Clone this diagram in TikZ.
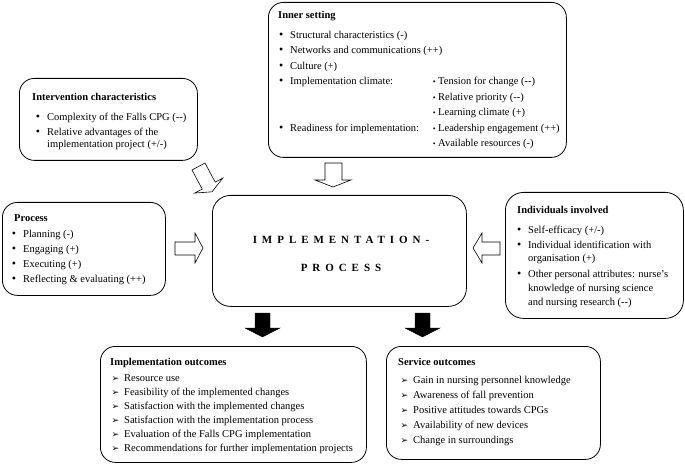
\documentclass[tikz,border=0pt]{standalone}
\usepackage{fontspec}
\setmainfont{Liberation Serif}
\newfontfamily\dejavu{DejaVu Sans}
\newcommand\bu{\llap{{\fontsize{12}{12}\selectfont\textbullet}\hspace{7pt}}}
\newcommand\sbu{\llap{{\fontsize{8}{8}\selectfont\textbullet}\hspace{2.5pt}}}
\newcommand\ab{\llap{{\dejavu\fontsize{9}{9}\selectfont ➢}\hspace{5pt}}}
\begin{document}
\begin{tikzpicture}[x=1pt,y=-1pt,
  box/.style={draw, line width=0.8pt, rounded corners=15pt, anchor=north west, inner sep=0pt},
  txt/.style={anchor=base west, inner sep=0pt, font=\fontsize{10.5}{12}\selectfont},
  ttl/.style={txt, font=\fontsize{10.5}{12}\selectfont\bfseries},
  openarrow/.style={draw, line width=0.6pt, fill=white, line join=miter},
  solidarrow/.style={fill=black, draw=black, line width=0.4pt},
  big/.style={inner sep=0pt, font=\fontsize{11}{13}\selectfont\bfseries\addfontfeature{LetterSpace=45}}
]
\useasboundingbox (0,0) rectangle (685,465);

% boxes
\node[box, minimum width=298pt, minimum height=155pt] (inner) at (268,2) {};
\node[box, minimum width=178pt, minimum height=82pt] (interv) at (19,78) {};
\node[box, minimum width=163pt, minimum height=93pt] (proc) at (2,202) {};
\node[box, minimum width=254pt, minimum height=111pt, rounded corners=18pt] (central) at (212,195) {};
\node[box, minimum width=178pt, minimum height=126pt, rounded corners=18pt] (indiv) at (505,192) {};
\node[box, minimum width=266pt, minimum height=116pt] (implout) at (100,346) {};
\node[box, minimum width=214pt, minimum height=113pt] (servout) at (386,346) {};

% inner setting
\node[ttl] (inT) at (278,19) {Inner setting};
\node[txt] (in1) at (290,38.5) {\bu Structural characteristics (-)};
\node[txt] (in2) at (290,54) {\bu Networks and communications (++)};
\node[txt] (in3) at (290,69.5) {\bu Culture (+)};
\node[txt] (in4) at (290,85) {\bu Implementation climate:};
\node[txt] (in5) at (290,131.5) {\bu Readiness for implementation:};
\node[txt] (ic1) at (438,85) {\sbu Tension for change ({-}{-})};
\node[txt] (ic2) at (438,100.5) {\sbu Relative priority ({-}{-})};
\node[txt] (ic3) at (438,116) {\sbu Learning climate (+)};
\node[txt] (ic4) at (438,131.5) {\sbu Leadership engagement (++)};
\node[txt] (ic5) at (438,147) {\sbu Available resources (-)};

% intervention characteristics
\node[ttl] (ivT) at (32,101) {Intervention characteristics};
\node[txt] (iv1) at (47,120.5) {\bu Complexity of the Falls CPG ({-}{-})};
\node[txt] (iv2) at (47,135.5) {\bu Relative advantages of the};
\node[txt] (iv3) at (47,148) {implementation project (+/-)};

% process
\node[ttl] (prT) at (14,221.5) {Process};
\node[txt] (pr1) at (23,237.5) {\bu Planning (-)};
\node[txt] (pr2) at (23,252.5) {\bu Engaging (+)};
\node[txt] (pr3) at (23,267.5) {\bu Executing (+)};
\node[txt] (pr4) at (23,282.5) {\bu Reflecting \& evaluating (++)};

% individuals involved
\node[ttl] (idT) at (517,213.5) {Individuals involved};
\node[txt] (id1) at (528,233.5) {\bu Self-efficacy (+/-)};
\node[txt] (id2) at (528,248.5) {\bu Individual identification with};
\node[txt] (id3) at (528,261.5) {organisation (+)};
\node[txt] (id4) at (528,277.5) {\bu Other personal attributes: nurse’s};
\node[txt] (id5) at (528,291.5) {knowledge of nursing science};
\node[txt] (id6) at (528,305.5) {and nursing research ({-}{-})};

% central
\node[big] (c1) at (341,240) {IMPLEMENTATION-};
\node[big] (c2) at (341,268) {PROCESS};

% implementation outcomes
\node[ttl] (ioT) at (110,365.5) {Implementation outcomes};
\node[txt] (io1) at (124,381.5) {\ab Resource use};
\node[txt] (io2) at (124,395.5) {\ab Feasibility of the implemented changes};
\node[txt] (io3) at (124,409.5) {\ab Satisfaction with the implemented changes};
\node[txt] (io4) at (124,423.5) {\ab Satisfaction with the implementation process};
\node[txt] (io5) at (124,437.5) {\ab Evaluation of the Falls CPG implementation};
\node[txt] (io6) at (124,451.5) {\ab Recommendations for further implementation projects};

% service outcomes
\node[ttl] (soT) at (398,365.5) {Service outcomes};
\node[txt] (so1) at (413,383) {\ab Gain in nursing personnel knowledge};
\node[txt] (so2) at (413,398) {\ab Awareness of fall prevention};
\node[txt] (so3) at (413,413) {\ab Positive attitudes towards CPGs};
\node[txt] (so4) at (413,428) {\ab Availability of new devices};
\node[txt] (so5) at (413,443) {\ab Change in surroundings};

% open arrows
\draw[openarrow] (205,163) -- (215.2,182.1) -- (222.8,178.1) -- (212,191.8) -- (194.6,193.1) -- (202.2,189.1) -- (192,170) -- cycle;
\draw[openarrow] (325,163) -- (342,163) -- (342,180) -- (351,180) -- (333,187) -- (315,180) -- (325,180) -- cycle;
\draw[openarrow] (175,242) -- (195,242) -- (195,233) -- (203,248) -- (195,263) -- (195,255) -- (175,255) -- cycle;
\draw[openarrow] (500,242) -- (482,242) -- (482,233) -- (473,248) -- (482,263) -- (482,255) -- (500,255) -- cycle;

% solid arrows
\draw[solidarrow] (255,313) -- (270,313) -- (270,328) -- (280,328) -- (262.5,337) -- (245,328) -- (255,328) -- cycle;
\draw[solidarrow] (415,313) -- (430,313) -- (430,328) -- (440,328) -- (422.5,337) -- (405,328) -- (415,328) -- cycle;
\end{tikzpicture}
\end{document}
